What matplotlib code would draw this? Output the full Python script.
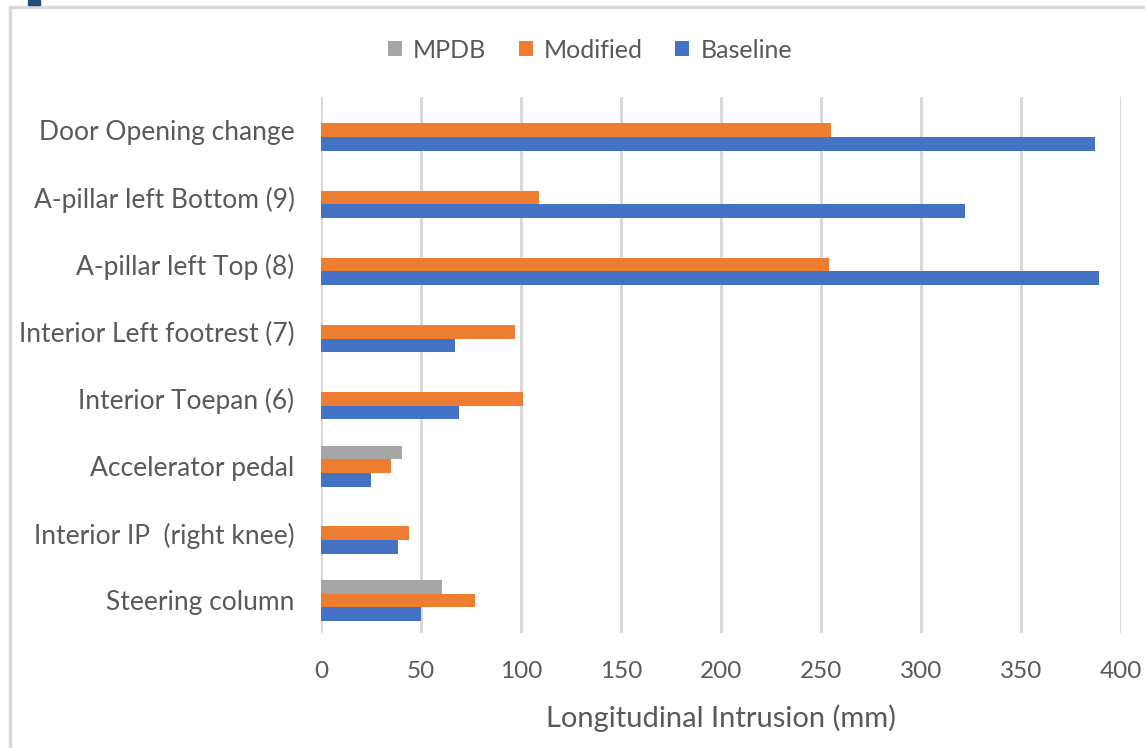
import matplotlib.pyplot as plt
import matplotlib.patches as mpatches
import numpy as np

plt.rcParams['font.family'] = ['Lato', 'DejaVu Sans']

categories = ['Steering column', 'Interior IP  (right knee)', 'Accelerator pedal',
              'Interior Toepan (6)', 'Interior Left footrest (7)', 'A-pillar left Top (8)',
              'A-pillar left Bottom (9)', 'Door Opening change']
baseline = [50, 38.5, 25, 69, 67, 389, 322, 387]
modified = [77, 44, 35, 101, 97, 254, 109, 255]
mpdb = [60.5, 0, 40.5, 0, 0, 0, 0, 0]

blue = '#4472C4'
orange = '#ED7D31'
gray = '#A5A5A5'
text_col = '#595959'

fig = plt.figure(figsize=(11.45, 7.48), dpi=100)
ax = fig.add_axes([321 / 1145, 1 - 633 / 748, 800 / 1145, 536 / 748])

y = np.arange(len(categories))
h = 0.204
ax.barh(y - h, baseline, height=h, color=blue, label='Baseline', zorder=3)
ax.barh(y, modified, height=h, color=orange, label='Modified', zorder=3)
ax.barh(y + h, mpdb, height=h, color=gray, label='MPDB', zorder=3)

ax.set_xlim(0, 400)
ax.set_ylim(-0.485, 7.495)
ax.set_xticks(np.arange(0, 401, 50))
ax.set_yticks(y)
ax.set_yticklabels(categories)
ax.tick_params(axis='both', length=0, colors=text_col)
ax.tick_params(axis='x', pad=20, labelsize=17.5)
ax.tick_params(axis='y', pad=19, labelsize=19)
ax.grid(axis='x', color='#d9d9d9', linewidth=2.2, zorder=0)
for s in ax.spines.values():
    s.set_visible(False)
ax.set_xlabel('Longitudinal Intrusion (mm)', fontsize=21, color=text_col, labelpad=16)

handles, labels = ax.get_legend_handles_labels()
fig.legend(handles[::-1], labels[::-1], loc='center', bbox_to_anchor=(590 / 1145, 1 - 50 / 748),
           ncol=3, frameon=False, fontsize=18, labelcolor=text_col,
           handlelength=0.55, handleheight=0.55, handletextpad=0.45, columnspacing=1.3)

# outer chart frame and corner mark
fig.patches.append(mpatches.Rectangle((10 / 1145, -0.01), 1.2, 1 - 7 / 748 + 0.01,
                                      transform=fig.transFigure, fill=False,
                                      edgecolor='#d9d9d9', linewidth=2.5))
fig.patches.append(mpatches.Rectangle((28 / 1145, 1 - 5 / 748), 12 / 1145, 5 / 748,
                                      transform=fig.transFigure, color='#1f4e79'))

fig.savefig('out.png', dpi=100)
